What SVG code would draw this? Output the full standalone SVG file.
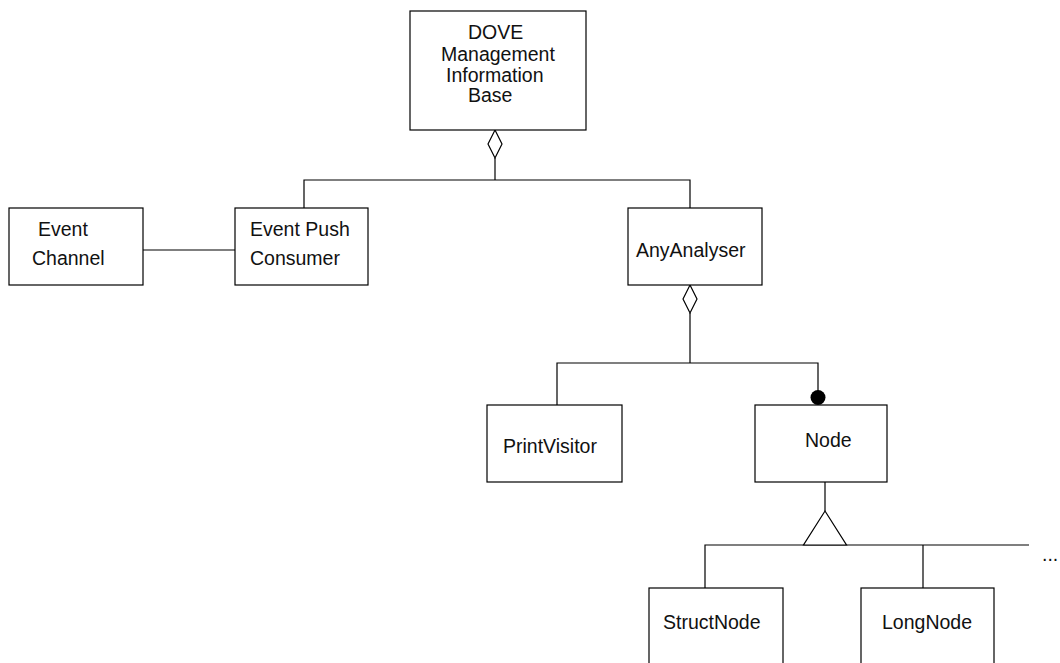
<svg xmlns="http://www.w3.org/2000/svg" width="1060" height="663" viewBox="0 0 1060 663">
  <style>
    .box { fill: #fff; stroke: #000; stroke-width: 1.2; }
    .line { fill: none; stroke: #000; stroke-width: 1.2; }
    .agg { fill: #fff; stroke: #000; stroke-width: 1.2; }
    .dot { fill: #000; }
    text { font-family: "Liberation Sans", Arial, sans-serif; font-size: 19.5px; fill: #111; }
  </style>
  <rect width="1060" height="663" fill="#fff"/>

  <!-- connectors -->
  <g id="connectors">
    <!-- MIB aggregation -->
    <polyline class="line" points="495,158 495,180"/>
    <polyline class="line" points="304,208 304,180 690,180 690,208"/>
    <polygon class="agg" points="495,130 502,144 495,158 488,144"/>
    <!-- channel to consumer -->
    <line class="line" x1="143" y1="250" x2="235" y2="250"/>
    <!-- AnyAnalyser aggregation -->
    <polyline class="line" points="690,313 690,363"/>
    <polyline class="line" points="557,405 557,363 818,363 818,398"/>
    <polygon class="agg" points="690,285 697,299 690,313 683,299"/>
    <circle class="dot" cx="818" cy="397.5" r="7.5"/>
    <!-- Node generalisation -->
    <line class="line" x1="825" y1="482" x2="825" y2="511"/>
    <polyline class="line" points="705,588 705,545 1029,545"/>
    <line class="line" x1="923" y1="545" x2="923" y2="588"/>
    <polygon class="agg" points="825,511 846.5,545 803.5,545"/>
  </g>

  <g id="mib">
    <rect class="box" x="410" y="11" width="176" height="119"/>
    <text x="468" y="39">DOVE</text>
    <text x="441" y="61">Management</text>
    <text x="446" y="82">Information</text>
    <text x="468" y="102">Base</text>
  </g>

  <g id="event-channel">
    <rect class="box" x="9" y="208" width="134" height="77"/>
    <text x="38" y="236">Event</text>
    <text x="32" y="265">Channel</text>
  </g>

  <g id="event-push-consumer">
    <rect class="box" x="235" y="208" width="133" height="77"/>
    <text x="250" y="236">Event Push</text>
    <text x="250" y="265">Consumer</text>
  </g>

  <g id="any-analyser">
    <rect class="box" x="628" y="208" width="134" height="77"/>
    <text x="636" y="257">AnyAnalyser</text>
  </g>

  <g id="print-visitor">
    <rect class="box" x="487" y="405" width="135" height="77"/>
    <text x="503" y="453">PrintVisitor</text>
  </g>

  <g id="node">
    <rect class="box" x="755" y="405" width="132" height="77"/>
    <text x="805" y="447">Node</text>
  </g>

  <g id="struct-node">
    <rect class="box" x="649" y="588" width="134" height="120"/>
    <text x="663" y="629">StructNode</text>
  </g>

  <g id="long-node">
    <rect class="box" x="861" y="588" width="133" height="120"/>
    <text x="882" y="629">LongNode</text>
  </g>

  <g id="more">
    <text x="1042" y="561">...</text>
  </g>
</svg>
